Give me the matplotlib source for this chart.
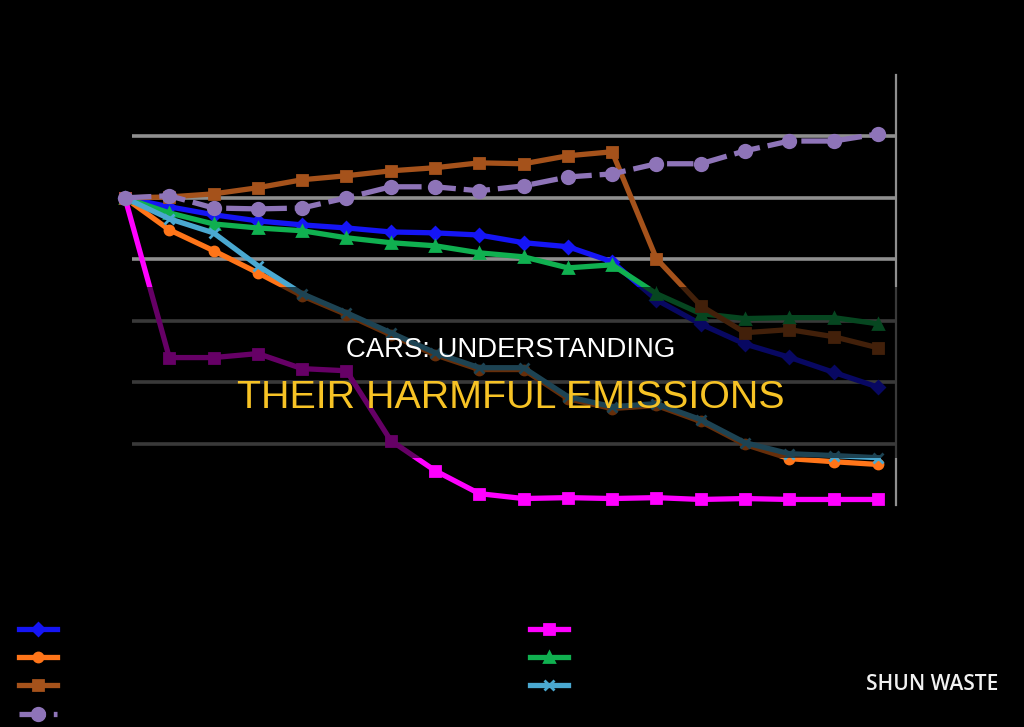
import matplotlib
matplotlib.use("Agg")
import matplotlib.pyplot as plt
from matplotlib.patches import Rectangle

# --- data (index, start = 100) ---
years = list(range(18))
blue = [100, 97.1, 94.5, 92.5, 91.2, 90.2, 88.9, 88.6, 87.9, 85.4, 84.1, 79.2, 66.8, 58.9, 52.4, 48.1, 43.2, 38.4]
magenta = [100, 48.0, 48.0, 49.3, 44.4, 43.7, 21.0, 11.2, 3.7, 2.1, 2.4, 2.1, 2.4, 1.8, 2.1, 1.8, 1.8, 1.8]
orange = [100, 89.6, 82.8, 75.6, 68.1, 62.0, 55.4, 48.9, 44.1, 44.1, 34.6, 31.4, 32.4, 27.2, 19.7, 15.1, 14.1, 13.2]
green = [100, 95.1, 91.5, 90.2, 89.3, 87.0, 85.4, 84.4, 82.1, 80.8, 77.2, 78.2, 68.8, 62.3, 60.7, 61.0, 61.0, 59.0]
brown = [100, 100.3, 101.3, 103.3, 105.9, 107.2, 108.8, 109.8, 111.4, 111.1, 113.7, 115.0, 80.2, 64.9, 56.1, 57.1, 54.8, 51.2]
teal = [100, 93.2, 88.6, 77.9, 68.8, 62.6, 56.1, 49.6, 44.7, 44.7, 35.3, 32.0, 33.0, 27.8, 20.3, 16.7, 16.1, 15.4]
purple = [100, 100.7, 96.7, 96.4, 96.7, 100, 103.6, 103.6, 102.3, 103.9, 106.8, 107.8, 111.1, 111.1, 115.3, 118.5, 118.5, 120.8]

grid_vals = [20, 40, 60, 80, 100, 120]

W, H = 1024, 727
fig = plt.figure(figsize=(W / 100, H / 100), dpi=100, facecolor="black")
ax = fig.add_axes([132 / W, 1 - 505 / H, 764 / W, 430 / H], facecolor="black")

# first point sits a little left of the plot area, as in the original
ax.set_xlim(0.158, 17.41)
ax.set_ylim(0, 140)

for v in grid_vals:
    ax.axhline(v, color="#8f8f8f", lw=2.6, zorder=1)

lw = 3.8
series = [
    ("CO", blue, "#1515F5", "D", "-", 6.5),
    ("NOx", magenta, "#FF00FF", "s", "-", 6.5),
    ("HC", orange, "#FF7519", "o", "-", 6.5),
    ("PM10", green, "#10B050", "^", "-", 6.5),
    ("SO2", brown, "#A5521B", "s", "-", 7),
    ("VOC", teal, "#4AA8D0", "x", "-", 6.5),
    ("CO2", purple, "#8E74B8", "o", (0, (5, 1.5)), 9),
]
handles = {}
for name, vals, col, mk, ls, ms in series:
    (h,) = ax.plot(years, vals, color=col, lw=lw, ls=ls, marker=mk, ms=ms,
                   mew=2, mec=col, mfc=col, clip_on=False, zorder=3, label=name)
    handles[name] = h

for s in ["left", "top", "bottom"]:
    ax.spines[s].set_visible(False)
ax.spines["right"].set_color("#8f8f8f")
ax.spines["right"].set_linewidth(1.6)
ax.set_xticks([])
ax.yaxis.tick_right()
ax.set_yticks(grid_vals)
ax.tick_params(axis="y", direction="in", length=4, color="#8f8f8f", labelright=False)

# legend, two separate columns (labels are black on black in the original)
left_names = ["CO", "HC", "SO2", "CO2"]
right_names = ["NOx", "PM10", "VOC"]
kw = dict(frameon=False, fontsize=10, handlelength=2.7, labelspacing=1.02,
          borderpad=0, borderaxespad=0, numpoints=1, labelcolor="black", loc="upper left")
leg1 = fig.legend([handles[n] for n in left_names], left_names,
                  bbox_to_anchor=(19 / W, 1 - 623 / H), **kw)
leg2 = fig.legend([handles[n] for n in right_names], right_names,
                  bbox_to_anchor=(530 / W, 1 - 623 / H), **kw)

# dark overlay band behind the headline
band = Rectangle((0, 1 - 458 / H), 1, 171 / H, transform=fig.transFigure,
                 facecolor="black", alpha=0.6, edgecolor="none", zorder=5)
fig.add_artist(band)

fig.text(511 / W, 1 - 350 / H, "CARS: UNDERSTANDING", color="white",
         fontsize=19.8, family="Liberation Sans", ha="center", va="center", zorder=6)
fig.text(511 / W, 1 - 398 / H, "THEIR HARMFUL EMISSIONS", color="#F7C325",
         fontsize=28.4, family="Liberation Sans", ha="center", va="center", zorder=6)
fig.text(998 / W, 1 - 685 / H, "SHUN WASTE", color="#f2f2f2", fontsize=15,
         family="Open Sans", weight="semibold", ha="right", va="center", zorder=6)

fig.savefig("out.png", dpi=100, facecolor="black")
